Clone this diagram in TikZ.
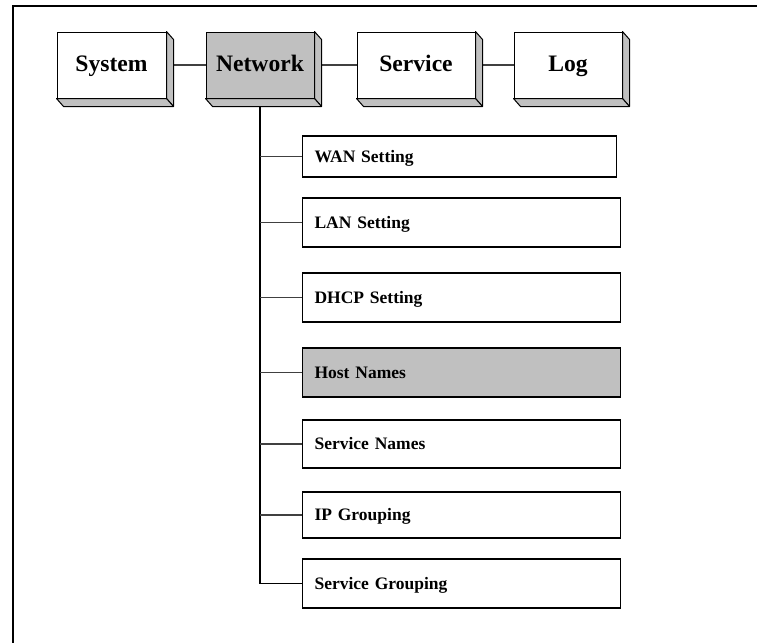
\documentclass[tikz,border=0pt]{standalone}
\usepackage{fontspec}
\setmainfont{Liberation Serif}
\usetikzlibrary{calc}
\definecolor{boxgrey}{HTML}{C0C0C0}
\definecolor{darkline}{HTML}{404040}
\begin{document}
\begin{tikzpicture}[x=1pt,y=-1pt,
 topbox/.style={draw=black, line width=1, minimum height=66, inner sep=0, text height=17.6, text depth=4, font=\fontsize{23.6}{28}\selectfont\bfseries},
 subbox/.style={draw=black, line width=1.1, anchor=west, minimum width=318, text width=294, inner xsep=12, inner ysep=0, text height=15, text depth=3.4, align=left, font=\fontsize{17.5}{20}\selectfont\bfseries},
 conn/.style={draw=darkline, line width=1.2},
 face/.style={fill=boxgrey, draw=black, line width=1, line join=round}]
\useasboundingbox (0,0) rectangle (757,643);
\draw[line width=2.5] (757,6) -- (13,6) -- (13,643);

\node[topbox, fill=white, minimum width=109] (sys) at (111.5,65) {System};
\node[topbox, fill=boxgrey, minimum width=108] (net) at (260,65) {Network};
\node[topbox, fill=white, minimum width=118] (svc) at (416,65) {Service};
\node[topbox, fill=white, minimum width=108] (log) at (568,65) {Log};

\node[subbox, fill=white, minimum height=41, minimum width=314, text width=290] (wan) at (302,156.5) {WAN Setting};
\node[subbox, fill=white, minimum height=49] (lan) at (302,222.5) {LAN Setting};
\node[subbox, fill=white, minimum height=49] (dhcp) at (302,297.5) {DHCP Setting};
\node[subbox, fill=boxgrey, minimum height=49] (host) at (302,372.5) {Host Names};
\node[subbox, fill=white, minimum height=48] (sn) at (302,444) {Service Names};
\node[subbox, fill=white, minimum height=46] (ip) at (302,515) {IP Grouping};
\node[subbox, fill=white, minimum height=49] (sg) at (302,583.5) {Service Grouping};

\draw[conn] (sys.east) -- (net.west);
\draw[conn] (net.east) -- (svc.west);
\draw[conn] (svc.east) -- (log.west);
\draw[conn, draw=black] (net.south) |- (sg.west);
\foreach \n in {wan,lan,dhcp,host,sn,ip} {\draw[conn] (\n.west) -- (\n.west -| net.south);}

\foreach \n in {sys,net,svc,log} {
 \filldraw[face] (\n.north east) -- ($(\n.north east)+(7,8)$) -- ($(\n.south east)+(7,8)$) -- (\n.south east) -- cycle;
 \filldraw[face] (\n.south west) -- (\n.south east) -- ($(\n.south east)+(7,8)$) -- ($(\n.south west)+(7,8)$) -- cycle;
}
\end{tikzpicture}
\end{document}
